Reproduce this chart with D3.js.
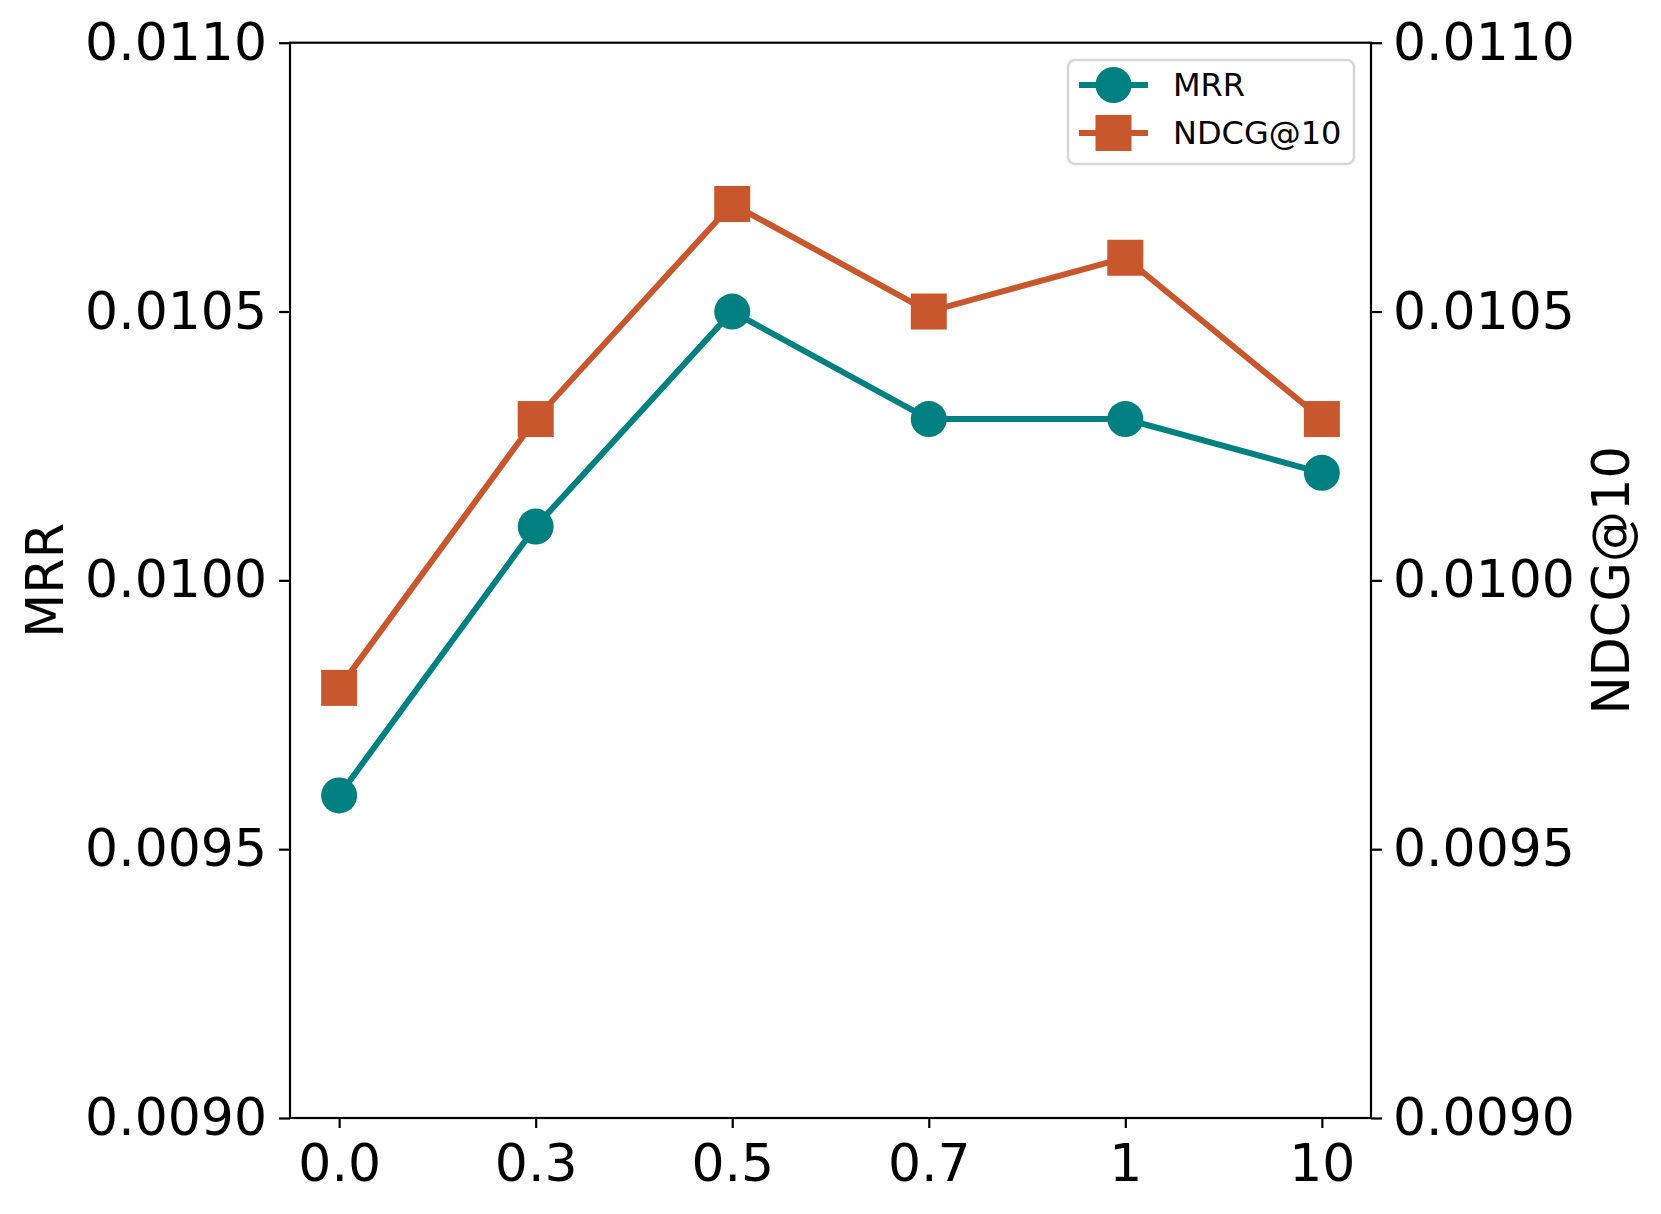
<!DOCTYPE html>
<html>
<head>
<meta charset="utf-8">
<script src="https://cdnjs.cloudflare.com/ajax/libs/d3/7.8.5/d3.min.js"></script>
<style>
  body { margin: 0; background: #fff; }
  text { font-family: "DejaVu Sans", sans-serif; fill: #000; }
</style>
</head>
<body>
<script>
// data
var categories = ["0.0", "0.3", "0.5", "0.7", "1", "10"];
var mrrValues = [0.0096, 0.0101, 0.0105, 0.0103, 0.0103, 0.0102];
var ndcgValues = [0.0098, 0.0103, 0.0107, 0.0105, 0.0106, 0.0103];
var yTicks = [0.0090, 0.0095, 0.0100, 0.0105, 0.0110];

var width = 1661, height = 1214;
// plot box ("top" is a reserved window global, so use other names)
var pLeft = 290, pRight = 1371, pTop = 42.7, pBottom = 1118;

var teal = "#008080", orange = "#c8572e";

var svg = d3.select("body").append("svg")
    .attr("width", width)
    .attr("height", height);

// x is index based, with matplotlib-like 5% margins
var x = d3.scaleLinear().domain([-0.25, categories.length - 1 + 0.25]).range([pLeft, pRight]);
var y = d3.scaleLinear().domain([0.0090, 0.0110]).range([pBottom, pTop]);

// left axis
svg.append("g")
    .attr("transform", "translate(" + pLeft + ",0)")
    .call(d3.axisLeft(y).tickValues(yTicks).tickFormat(d3.format(".4f")).tickSize(11).tickPadding(12));
// right axis (twin, same limits)
svg.append("g")
    .attr("transform", "translate(" + pRight + ",0)")
    .call(d3.axisRight(y).tickValues(yTicks).tickFormat(d3.format(".4f")).tickSize(11).tickPadding(11));
// bottom axis
svg.append("g")
    .attr("transform", "translate(0," + pBottom + ")")
    .call(d3.axisBottom(x).tickValues(d3.range(categories.length)).tickFormat(function(i){ return categories[i]; }).tickSize(10).tickPadding(16));

svg.selectAll(".domain").remove();
svg.selectAll(".tick line").attr("stroke", "#000").attr("stroke-width", 2.2);
svg.selectAll(".tick text").style("font-size", "52px").style("font-family", "DejaVu Sans, sans-serif");

// frame (spines)
svg.append("rect")
    .attr("x", pLeft).attr("y", pTop)
    .attr("width", pRight - pLeft).attr("height", pBottom - pTop)
    .attr("fill", "none").attr("stroke", "#000").attr("stroke-width", 2.2);

// axis titles
svg.append("text")
    .attr("transform", "translate(45," + (pTop + pBottom) / 2 + ") rotate(-90)")
    .attr("text-anchor", "middle").attr("dominant-baseline", "central")
    .style("font-size", "51px")
    .text("MRR");
svg.append("text")
    .attr("transform", "translate(1611," + (pTop + pBottom) / 2 + ") rotate(-90)")
    .attr("text-anchor", "middle").attr("dominant-baseline", "central")
    .style("font-size", "51px")
    .text("NDCG@10");

var line = d3.line()
    .x(function(d, i){ return x(i); })
    .y(function(d){ return y(d); });

// NDCG@10 series
svg.append("path").datum(ndcgValues)
    .attr("d", line).attr("fill", "none")
    .attr("stroke", orange).attr("stroke-width", 6);
svg.selectAll(".sq").data(ndcgValues).enter().append("rect")
    .attr("class", "sq")
    .attr("x", function(d, i){ return x(i) - 18; })
    .attr("y", function(d){ return y(d) - 18; })
    .attr("width", 36).attr("height", 36)
    .attr("fill", orange);

// MRR series
svg.append("path").datum(mrrValues)
    .attr("d", line).attr("fill", "none")
    .attr("stroke", teal).attr("stroke-width", 6);
svg.selectAll(".dot").data(mrrValues).enter().append("circle")
    .attr("class", "dot")
    .attr("cx", function(d, i){ return x(i); })
    .attr("cy", function(d){ return y(d); })
    .attr("r", 18)
    .attr("fill", teal);

// legend
var legend = svg.append("g");
legend.append("rect")
    .attr("x", 1068).attr("y", 60).attr("width", 286).attr("height", 104)
    .attr("rx", 7).attr("ry", 7)
    .attr("fill", "#fff").attr("fill-opacity", 0.8)
    .attr("stroke", "#d6d6d6").attr("stroke-width", 2.5);

var entries = [
  {name: "MRR", color: teal, shape: "circle", y: 85},
  {name: "NDCG@10", color: orange, shape: "square", y: 133}
];
entries.forEach(function(e){
  legend.append("line")
      .attr("x1", 1079).attr("x2", 1148)
      .attr("y1", e.y).attr("y2", e.y)
      .attr("stroke", e.color).attr("stroke-width", 6);
  if (e.shape == "circle") {
    legend.append("circle").attr("cx", 1113.5).attr("cy", e.y).attr("r", 18).attr("fill", e.color);
  } else {
    legend.append("rect").attr("x", 1095.5).attr("y", e.y - 18).attr("width", 36).attr("height", 36).attr("fill", e.color);
  }
  legend.append("text")
      .attr("x", 1173).attr("y", e.y)
      .attr("dominant-baseline", "central")
      .style("font-size", "32px")
      .text(e.name);
});
</script>
</body>
</html>
